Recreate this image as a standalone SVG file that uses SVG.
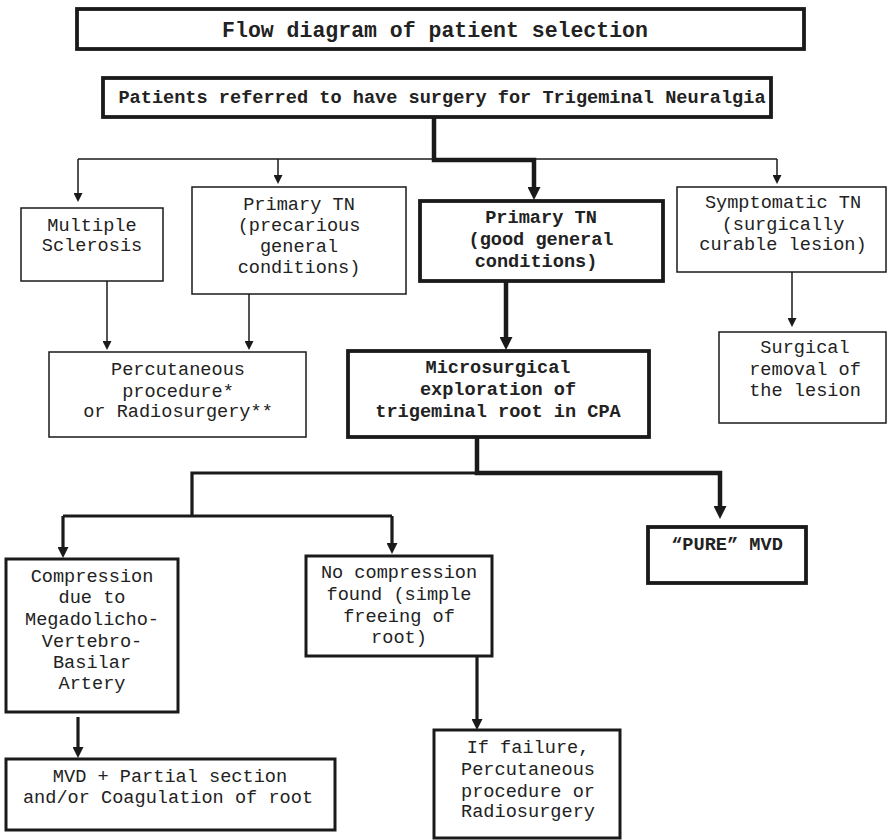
<svg xmlns="http://www.w3.org/2000/svg" width="889" height="840" viewBox="0 0 889 840">
<style>
rect{fill:#fff;stroke:#1a1a1a}
.b1{stroke-width:1.5}
.b3{stroke-width:3}
.b4{stroke-width:3.8}
text{font-family:"Liberation Mono","Courier New",monospace;font-size:18.6px;fill:#222;text-anchor:middle}
.bold{font-weight:bold}
.c1{fill:none;stroke:#1a1a1a;stroke-width:1.5}
.c3{fill:none;stroke:#1a1a1a;stroke-width:3.2}
.c4{fill:none;stroke:#1a1a1a;stroke-width:4.5}
</style>
<defs>
<marker id="aThin" viewBox="0 0 10 10" refX="0" refY="5" markerUnits="userSpaceOnUse" markerWidth="10" markerHeight="9" orient="auto"><path d="M0,0 L10,5 L0,10 z" fill="#1a1a1a"/></marker>
<marker id="aMed" viewBox="0 0 10 10" refX="0" refY="5" markerUnits="userSpaceOnUse" markerWidth="11" markerHeight="11" orient="auto"><path d="M0,0 L10,5 L0,10 z" fill="#1a1a1a"/></marker>
<marker id="aThick" viewBox="0 0 10 10" refX="0" refY="5" markerUnits="userSpaceOnUse" markerWidth="13" markerHeight="13" orient="auto"><path d="M0,0 L10,5 L0,10 z" fill="#1a1a1a"/></marker>
</defs>
<rect width="889" height="840" style="fill:#fff;stroke:none"/>

<g id="connectors">
<path class="c1" d="M78,159 H777"/>
<path class="c1" d="M78,159 V193" marker-end="url(#aThin)"/>
<path class="c1" d="M278,159 V175" marker-end="url(#aThin)"/>
<path class="c1" d="M777,159 V175" marker-end="url(#aThin)"/>
<path class="c1" d="M107,281 V341" marker-end="url(#aThin)"/>
<path class="c1" d="M249,294 V341" marker-end="url(#aThin)"/>
<path class="c1" d="M792,272 V318" marker-end="url(#aThin)"/>
<path class="c4" d="M434,117 V160 H534 V187" marker-end="url(#aThick)"/>
<path class="c4" d="M506,281 V337" marker-end="url(#aThick)"/>
<path class="c4" d="M477,437 V473 H720 V506" marker-end="url(#aThick)"/>
<path class="c3" d="M477,473 H192 V516"/>
<path class="c3" d="M63,516 H392"/>
<path class="c3" d="M63,516 V547" marker-end="url(#aMed)"/>
<path class="c3" d="M392,516 V543" marker-end="url(#aMed)"/>
<path class="c3" d="M78,717 V747" marker-end="url(#aMed)"/>
<path class="c3" d="M477,656 V719" marker-end="url(#aMed)"/>
</g>

<g id="title">
<rect class="b4" x="77" y="9" width="727" height="40"/>
<text class="bold" x="435" y="37" style="font-size:21.5px">Flow diagram of patient selection</text>
</g>

<g id="patients">
<rect class="b4" x="103" y="78" width="668" height="39"/>
<text class="bold" x="442" y="103">Patients referred to have surgery for Trigeminal Neuralgia</text>
</g>

<g id="ms">
<rect class="b1" x="21" y="208" width="142" height="73"/>
<text x="92" y="231">Multiple</text>
<text x="92" y="251">Sclerosis</text>
</g>

<g id="ptn-precarious">
<rect class="b1" x="192" y="187" width="214" height="107"/>
<text x="299" y="210">Primary TN</text>
<text x="299" y="231">(precarious</text>
<text x="299" y="252">general</text>
<text x="299" y="273">conditions)</text>
</g>

<g id="ptn-good">
<rect class="b4" x="420" y="201" width="243" height="80"/>
<text class="bold" x="541" y="223">Primary TN</text>
<text class="bold" x="541" y="245">(good general</text>
<text class="bold" x="536" y="267">conditions)</text>
</g>

<g id="symptomatic">
<rect class="b1" x="677" y="187" width="209" height="85"/>
<text x="783" y="208">Symptomatic TN</text>
<text x="783" y="230">(surgically</text>
<text x="783" y="250">curable lesion)</text>
</g>

<g id="percutaneous">
<rect class="b1" x="49" y="352" width="257" height="85"/>
<text x="178" y="375">Percutaneous</text>
<text x="178" y="397">procedure*</text>
<text x="178" y="417">or Radiosurgery**</text>
</g>

<g id="microsurgical">
<rect class="b4" x="348" y="351" width="301" height="86"/>
<text class="bold" x="498" y="373">Microsurgical</text>
<text class="bold" x="498" y="395">exploration of</text>
<text class="bold" x="498" y="417">trigeminal root in CPA</text>
</g>

<g id="surgical-removal">
<rect class="b1" x="719" y="332" width="167" height="91"/>
<text x="805" y="353">Surgical</text>
<text x="805" y="375">removal of</text>
<text x="805" y="396">the lesion</text>
</g>

<g id="pure-mvd">
<rect class="b4" x="648" y="527" width="158" height="56"/>
<text class="bold" x="727" y="550">“PURE” MVD</text>
</g>

<g id="compression">
<rect class="b3" x="6" y="559" width="172" height="153"/>
<text x="92" y="582">Compression</text>
<text x="92" y="603">due to</text>
<text x="92" y="625">Megadolicho-</text>
<text x="92" y="647">Vertebro-</text>
<text x="92" y="668">Basilar</text>
<text x="92" y="689">Artery</text>
</g>

<g id="no-compression">
<rect class="b3" x="306" y="556" width="186" height="100"/>
<text x="399" y="578">No compression</text>
<text x="399" y="600">found (simple</text>
<text x="399" y="622">freeing of</text>
<text x="399" y="643">root)</text>
</g>

<g id="mvd-partial">
<rect class="b3" x="6" y="759" width="329" height="71"/>
<text x="170" y="782">MVD + Partial section</text>
<text x="168" y="803">and/or Coagulation of root</text>
</g>

<g id="if-failure">
<rect class="b3" x="434" y="730" width="186" height="108"/>
<text x="528" y="753">If failure,</text>
<text x="528" y="775">Percutaneous</text>
<text x="528" y="797">procedure or</text>
<text x="528" y="817">Radiosurgery</text>
</g>
</svg>
